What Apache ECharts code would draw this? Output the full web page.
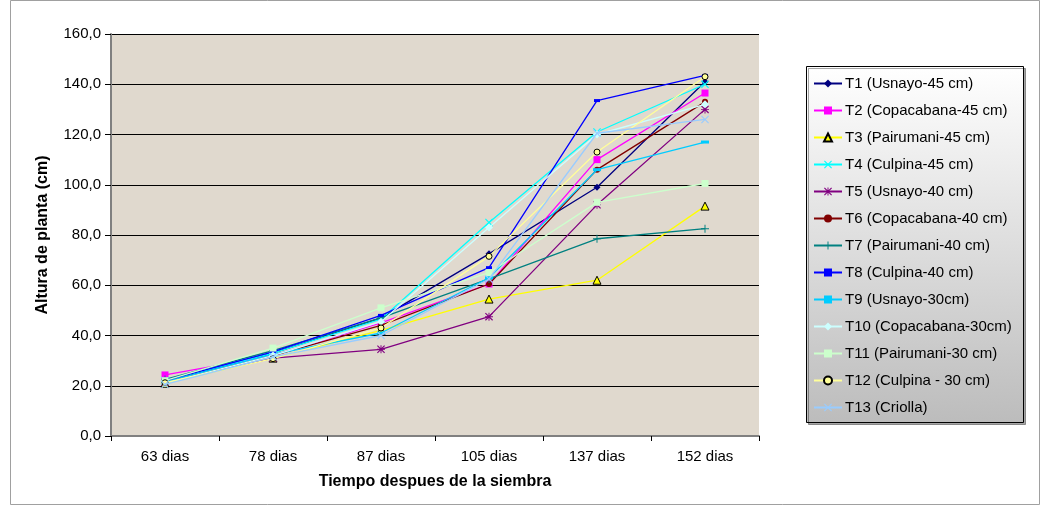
<!DOCTYPE html>
<html>
<head>
<meta charset="utf-8">
<script src="https://cdn.jsdelivr.net/npm/echarts@6/dist/echarts.min.js"></script>
<style>html,body{margin:0;padding:0;background:#fff;}#c{width:1046px;height:506px;}</style>
</head>
<body>
<div id="c"></div>
<script>
const categories = ['63 dias', '78 dias', '87 dias', '105 dias', '137 dias', '152 dias'];
const yTicks = [0, 20, 40, 60, 80, 100, 120, 140, 160];

const T1 = [21.5, 33.0, 47.0, 72.5, 99.0, 141.0];
const T2 = [24.3, 32.0, 45.0, 60.5, 110.0, 136.5];
const T3 = [21.0, 31.0, 42.0, 54.5, 62.0, 91.5];
const T4 = [22.0, 33.0, 46.5, 85.0, 121.0, 140.0];
const T5 = [21.5, 31.0, 34.5, 47.5, 92.0, 130.0];
const T6 = [21.5, 32.0, 44.0, 60.5, 106.0, 133.0];
const T7 = [22.5, 34.0, 47.0, 62.5, 78.5, 82.5];
const T8 = [22.0, 33.5, 48.0, 67.0, 133.5, 143.5];
const T9 = [21.5, 32.5, 41.0, 63.0, 106.0, 117.0];
const T10 = [21.0, 32.0, 45.5, 83.0, 120.0, 132.0];
const T11 = [22.0, 35.0, 51.0, 65.0, 93.0, 100.5];
const T12 = [21.2, 30.8, 43.0, 71.5, 113.0, 143.0];
const T13 = [20.5, 31.5, 40.0, 62.5, 120.5, 126.0];

const seriesNames = ['T1 (Usnayo-45 cm)', 'T2 (Copacabana-45 cm)', 'T3 (Pairumani-45 cm)', 'T4 (Culpina-45 cm)',
  'T5 (Usnayo-40 cm)', 'T6 (Copacabana-40 cm)', 'T7 (Pairumani-40 cm)', 'T8 (Culpina-40 cm)',
  'T9 (Usnayo-30cm)', 'T10 (Copacabana-30cm)', 'T11 (Pairumani-30 cm)', 'T12 (Culpina - 30 cm)', 'T13 (Criolla)'];
const seriesData = [T1, T2, T3, T4, T5, T6, T7, T8, T9, T10, T11, T12, T13];

const X_PATH = 'path://M0,1L1,0L5,4L9,0L10,1L6,5L10,9L9,10L5,6L1,10L0,9L4,5Z';
const PLUS_PATH = 'path://M4.4,0H5.6V4.4H10V5.6H5.6V10H4.4V5.6H0V4.4H4.4Z';
const STAR_PATH = 'path://M0,1L1,0L4.4,3.4V0H5.6V3.4L9,0L10,1L6.6,4.4H10V5.6H6.6L10,9L9,10L5.6,6.6V10H4.4V6.6L1,10L0,9L3.4,5.6H0V4.4H3.4Z';

const styles = [
  {color: '#000080', symbol: 'diamond', size: 7},
  {color: '#FF00FF', symbol: 'rect', size: 7},
  {color: '#FFFF00', symbol: 'triangle', size: 8, border: '#000000'},
  {color: '#00FFFF', symbol: X_PATH, size: 8},
  {color: '#800080', symbol: STAR_PATH, size: 8},
  {color: '#800000', symbol: 'circle', size: 6},
  {color: '#008080', symbol: PLUS_PATH, size: 8},
  {color: '#0000FF', symbol: 'rect', size: [6, 3]},
  {color: '#00CCFF', symbol: 'rect', size: [8, 3]},
  {color: '#CCFFFF', symbol: 'diamond', size: 8},
  {color: '#CCFFCC', symbol: 'rect', size: 7},
  {color: '#FFFF99', symbol: 'circle', size: 6, border: '#000000'},
  {color: '#99CCFF', symbol: X_PATH, size: 8}
];

const series = seriesNames.map((name, i) => {
  const s = styles[i];
  return {
    name: name,
    type: 'line',
    data: seriesData[i],
    symbol: s.symbol,
    symbolSize: s.size,
    showAllSymbol: true,
    lineStyle: {color: s.color, width: 1.3},
    itemStyle: {color: s.color, borderColor: s.border || s.color, borderWidth: s.border ? 1 : 0, opacity: 1},
    emphasis: {disabled: true},
    animation: false,
    z: 3 + i
  };
});

const chart = echarts.init(document.getElementById('c'), null, {renderer: 'canvas'});
const FONT = 'Liberation Sans, Arial, sans-serif';
chart.setOption({
  backgroundColor: '#ffffff',
  animation: false,
  textStyle: {fontFamily: FONT},
  graphic: [
    {type: 'rect', shape: {x: 10.5, y: 0.5, width: 1029, height: 504}, style: {fill: 'none', stroke: '#a0a0a0', lineWidth: 1}, z: -10, silent: true},
    {type: 'rect', shape: {x: 806.5, y: 66.5, width: 217, height: 356},
     style: {fill: new echarts.graphic.LinearGradient(0, 0, 0, 1, [{offset: 0, color: '#ffffff'}, {offset: 1, color: '#bcbcbc'}]),
             stroke: '#000000', lineWidth: 1, shadowColor: 'rgba(0,0,0,0.35)', shadowOffsetX: 2, shadowOffsetY: 2, shadowBlur: 0},
     z: -5, silent: true}
  ],
  grid: {left: 111, right: 287, top: 34, bottom: 70, show: true, backgroundColor: '#E0D9CE', borderWidth: 0, containLabel: false},
  legend: {
    orient: 'vertical',
    left: 808,
    top: 71,
    itemWidth: 28,
    itemHeight: 10,
    itemGap: 12,
    textStyle: {fontFamily: FONT, fontSize: 15, color: '#000000', padding: [0, 0, 0, -2]},
    data: seriesNames,
    selectedMode: false
  },
  xAxis: {
    type: 'category',
    data: categories,
    boundaryGap: true,
    axisLine: {lineStyle: {color: '#808080', width: 2}},
    axisTick: {show: true, alignWithLabel: false, length: 5, lineStyle: {color: '#000000'}},
    axisLabel: {fontFamily: FONT, fontSize: 15, color: '#000000', margin: 13},
    splitLine: {show: false},
    name: 'Tiempo despues de la siembra',
    nameLocation: 'middle',
    nameGap: 38,
    nameTextStyle: {fontFamily: FONT, fontSize: 16, fontWeight: 'bold', color: '#000000'}
  },
  yAxis: {
    type: 'value',
    min: yTicks[0],
    max: yTicks[yTicks.length - 1],
    interval: yTicks[1] - yTicks[0],
    axisLine: {show: true, lineStyle: {color: '#808080', width: 2}},
    axisTick: {show: true, length: 6, inside: false, lineStyle: {color: '#000000'}},
    axisLabel: {fontFamily: FONT, fontSize: 15, color: '#000000', margin: 10,
      formatter: v => v.toFixed(1).replace('.', ',')},
    splitLine: {show: true, lineStyle: {color: '#000000', width: 1}},
    name: 'Altura de planta (cm)',
    nameLocation: 'middle',
    nameRotate: 90,
    nameGap: 60,
    nameTextStyle: {fontFamily: FONT, fontSize: 16, fontWeight: 'bold', color: '#000000'}
  },
  series: series
});
</script>
</body>
</html>
